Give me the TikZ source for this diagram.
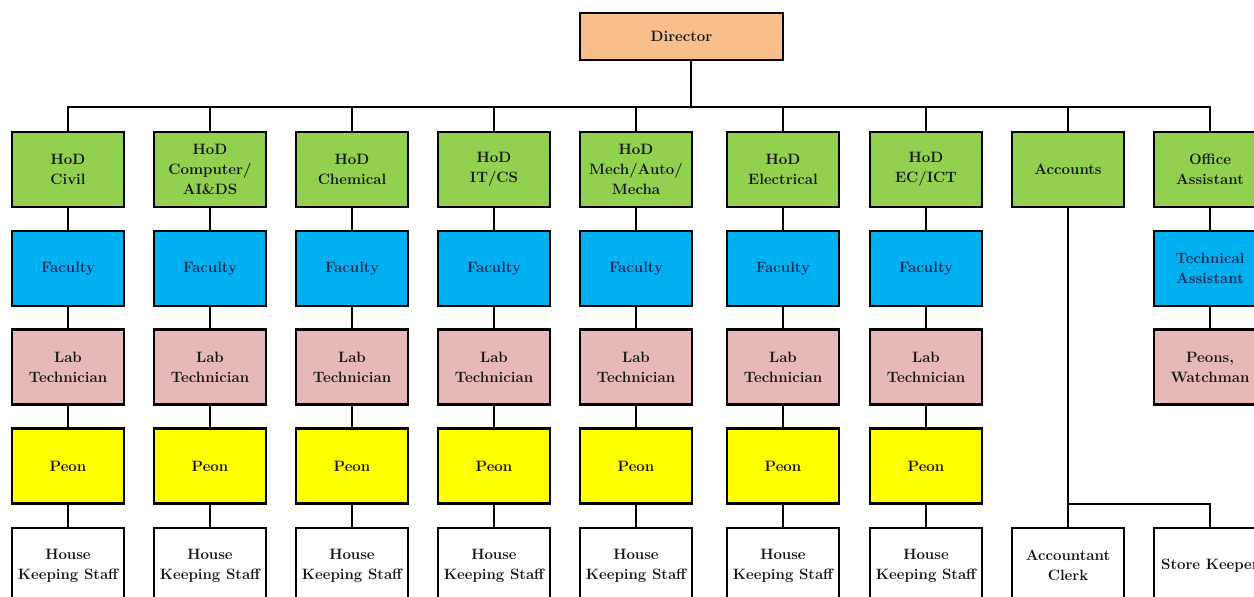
\documentclass[tikz,border=0pt]{standalone}
\usepackage{fontspec}
\usepackage{xcolor}
\definecolor{cdir}{HTML}{F8BF8C}
\definecolor{chod}{HTML}{92D050}
\definecolor{cfac}{HTML}{00B0F0}
\definecolor{clab}{HTML}{E6B9B8}
\definecolor{cpeon}{HTML}{FFFF00}
\definecolor{ctxt}{HTML}{141414}
\definecolor{cnavy}{HTML}{1A2A55}
\tikzset{
  box/.style={draw=black, line width=2.8pt, minimum width=112pt, minimum height=75pt,
    inner sep=0pt, align=center, text=ctxt,
    font=\fontsize{15pt}{20pt}\selectfont\bfseries},
  hodbox/.style={box, fill=chod},
  facbox/.style={box, fill=cfac, text=cnavy},
  labbox/.style={box, fill=clab},
  peonbox/.style={box, fill=cpeon},
  hkbox/.style={box, fill=white},
  link/.style={line width=2.6pt, draw=black}
}
\begin{document}
\begin{tikzpicture}[x=1pt, y=-1pt]
\useasboundingbox (0,0) rectangle (1254,597);
\fill[white] (0,0) rectangle (1254,597);
\clip (0,0) rectangle (1254,597);

\node[box, fill=cdir, minimum width=203pt, minimum height=47pt] (dir) at (681.5,36.5) {Director};
\coordinate (bus) at (691,107);

% HoD row
\node[hodbox] (h1) at (68,169.5)  {HoD\\Civil};
\node[hodbox] (h2) at (210,169.5) {HoD\\Computer/\\AI\&DS};
\node[hodbox] (h3) at (352,169.5) {HoD\\Chemical};
\node[hodbox] (h4) at (494,169.5) {HoD\\IT/CS};
\node[hodbox] (h5) at (636,169.5) {HoD\\Mech/Auto/\\Mecha};
\node[hodbox] (h6) at (783,169.5) {HoD\\Electrical};
\node[hodbox] (h7) at (926,169.5) {HoD\\EC/ICT};
\node[hodbox] (h8) at (1068,169.5) {Accounts};
\node[hodbox] (h9) at (1210,169.5) {Office\\Assistant};

% department columns
\foreach \i/\x in {1/68,2/210,3/352,4/494,5/636,6/783,7/926}{
  \node[facbox] (f\i) at (\x,268.5) {Faculty};
  \node[labbox] (l\i) at (\x,367) {Lab\\Technician};
  \node[peonbox] (p\i) at (\x,466) {Peon};
  \node[hkbox] (k\i) at (\x,565.5) {House\\Keeping Staff};
}
\node[facbox] (f9) at (1210,268.5) {Technical\\Assistant};
\node[labbox] (l9) at (1210,367) {Peons,\\Watchman};
\node[hkbox] (ac) at (1068,565.5) {Accountant\\Clerk};
\node[hkbox] (sk) at (1210,565.5) {Store Keeper};
\coordinate (abus) at (1068,504);

% connectors
\draw[link] ([xshift=9.5pt]dir.south) -- (bus);
\draw[link] (h1.north) -- (h1.north |- bus) -- (h9.north |- bus) -- (h9.north);
\foreach \i in {2,...,8}{
  \draw[link] (h\i.north) -- (h\i.north |- bus);
}
\foreach \i in {1,...,7}{
  \draw[link] (h\i.south) -- (f\i.north);
  \draw[link] (f\i.south) -- (l\i.north);
  \draw[link] (l\i.south) -- (p\i.north);
  \draw[link] (p\i.south) -- (k\i.north);
}
\draw[link] (h9.south) -- (f9.north);
\draw[link] (f9.south) -- (l9.north);
\draw[link] (h8.south) -- (ac.north);
\draw[link] (abus) -- (abus -| sk.north) -- (sk.north);
\end{tikzpicture}
\end{document}
